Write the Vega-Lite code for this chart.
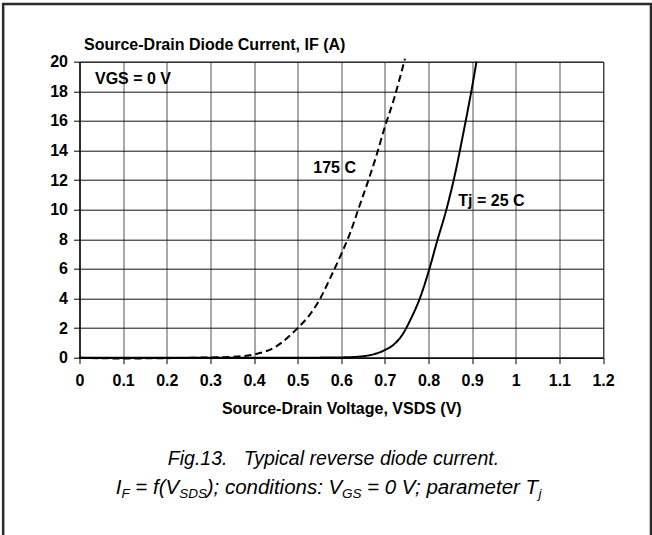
{
  "$schema": "https://vega.github.io/schema/vega-lite/v6.json",
  "width": 523.5,
  "height": 296,
  "autosize": {"type": "none"},
  "padding": {"left": 79.5, "top": 61.7, "right": 49, "bottom": 177.3},
  "background": "white",
  "config": {
    "view": {"stroke": "#333", "strokeWidth": 1},
    "font": "Liberation Sans",
    "axis": {
      "labelFont": "Liberation Sans", "labelFontWeight": "bold", "labelFontSize": 16, "labelColor": "#000",
      "titleFont": "Liberation Sans", "titleFontWeight": "bold", "titleFontSize": 16, "titleColor": "#000",
      "domainColor": "#000", "domainWidth": 1.2, "tickColor": "#000", "tickSize": 6, "gridWidth": 1,
      "labelOverlap": false
    }
  },
  "datasets": {
    "curves": [
      {"v": 0.0, "i": 0.0, "series": "25C"},
      {"v": 0.1, "i": 0.0, "series": "25C"},
      {"v": 0.2, "i": 0.0, "series": "25C"},
      {"v": 0.3, "i": 0.0, "series": "25C"},
      {"v": 0.4, "i": 0.0, "series": "25C"},
      {"v": 0.5, "i": 0.0, "series": "25C"},
      {"v": 0.6, "i": 0.02, "series": "25C"},
      {"v": 0.65, "i": 0.1, "series": "25C"},
      {"v": 0.68, "i": 0.28, "series": "25C"},
      {"v": 0.7, "i": 0.52, "series": "25C"},
      {"v": 0.72, "i": 0.88, "series": "25C"},
      {"v": 0.74, "i": 1.55, "series": "25C"},
      {"v": 0.76, "i": 2.65, "series": "25C"},
      {"v": 0.78, "i": 4.0, "series": "25C"},
      {"v": 0.8, "i": 5.8, "series": "25C"},
      {"v": 0.82, "i": 7.9, "series": "25C"},
      {"v": 0.84, "i": 9.9, "series": "25C"},
      {"v": 0.86, "i": 12.3, "series": "25C"},
      {"v": 0.88, "i": 15.2, "series": "25C"},
      {"v": 0.9, "i": 18.3, "series": "25C"},
      {"v": 0.91, "i": 20.0, "series": "25C"},
      {"v": 0.0, "i": 0.0, "series": "175C"},
      {"v": 0.1, "i": -0.05, "series": "175C"},
      {"v": 0.2, "i": -0.03, "series": "175C"},
      {"v": 0.3, "i": 0.02, "series": "175C"},
      {"v": 0.35, "i": 0.06, "series": "175C"},
      {"v": 0.4, "i": 0.22, "series": "175C"},
      {"v": 0.45, "i": 0.75, "series": "175C"},
      {"v": 0.5, "i": 2.0, "series": "175C"},
      {"v": 0.525, "i": 2.8, "series": "175C"},
      {"v": 0.55, "i": 3.9, "series": "175C"},
      {"v": 0.575, "i": 5.4, "series": "175C"},
      {"v": 0.6, "i": 7.0, "series": "175C"},
      {"v": 0.62, "i": 8.4, "series": "175C"},
      {"v": 0.64, "i": 10.1, "series": "175C"},
      {"v": 0.66, "i": 11.8, "series": "175C"},
      {"v": 0.68, "i": 13.6, "series": "175C"},
      {"v": 0.7, "i": 15.6, "series": "175C"},
      {"v": 0.72, "i": 17.4, "series": "175C"},
      {"v": 0.746, "i": 20.2, "series": "175C"}
    ],
    "notes": [
      {"v": 0.0355, "i": 18.83, "label": "VGS = 0 V"},
      {"v": 0.5359, "i": 12.84, "label": "175 C"},
      {"v": 0.8683, "i": 10.61, "label": "Tj = 25 C"}
    ],
    "caption": [
      {"v": 0.5822, "i": -7.25, "text": "Fig.13.\u00a0\u00a0\u00a0Typical reverse diode current.", "part": "line1"},
      {"v": 0.083, "i": -9.21, "text": "I", "part": "main"},
      {"v": 0.096, "i": -9.48, "text": "F", "part": "sub"},
      {"v": 0.128, "i": -9.21, "text": "= f(V", "part": "main"},
      {"v": 0.2285, "i": -9.48, "text": "SDS", "part": "sub"},
      {"v": 0.2915, "i": -9.21, "text": "); conditions: V", "part": "main"},
      {"v": 0.602, "i": -9.48, "text": "GS", "part": "sub"},
      {"v": 0.659, "i": -9.21, "text": "= 0 V; parameter T", "part": "main"},
      {"v": 1.052, "i": -9.48, "text": "j", "part": "sub"}
    ],
    "frame": [
      {"v": -0.175, "v2": 1.31, "i": 23.9, "i2": -13.7}
    ]
  },
  "layer": [
    {
      "data": {"name": "curves"},
      "mark": {"type": "line", "interpolate": "monotone", "color": "#000", "strokeWidth": 2, "clip": false},
      "encoding": {
        "x": {
          "field": "v", "type": "quantitative",
          "scale": {"domain": [0, 1.2], "nice": false, "zero": false},
          "axis": {
            "title": "Source-Drain Voltage, VSDS (V)", "values": [0, 0.1, 0.2, 0.3, 0.4, 0.5, 0.6, 0.7, 0.8, 0.9, 1, 1.1, 1.2],
            "tickCount": 20,
            "format": ".1~f", "labelPadding": 9, "titlePadding": 12, "gridColor": "#555", "labelFlush": false
          }
        },
        "y": {
          "field": "i", "type": "quantitative",
          "scale": {"domain": [0, 20], "nice": false, "zero": false},
          "axis": {
            "title": "Source-Drain Diode Current, IF (A)",
            "values": [0, 2, 4, 6, 8, 10, 12, 14, 16, 18, 20],
            "tickCount": 20,
            "labelPadding": 6, "gridColor": "#111", "labelFlush": false,
            "titleAngle": 0, "titleAlign": "left", "titleBaseline": "middle", "titleX": 4, "titleY": -17.7
          }
        },
        "detail": {"field": "series"},
        "strokeDash": {
          "field": "series", "type": "nominal",
          "scale": {"domain": ["25C", "175C"], "range": [[1, 0], [7, 4]]},
          "legend": null
        }
      }
    },
    {
      "data": {"name": "notes"},
      "mark": {"type": "text", "align": "left", "baseline": "middle", "fontSize": 16, "fontWeight": "bold", "color": "#000", "font": "Liberation Sans"},
      "encoding": {
        "x": {"field": "v", "type": "quantitative"},
        "y": {"field": "i", "type": "quantitative"},
        "text": {"field": "label"}
      }
    },
    {
      "data": {"name": "caption"},
      "transform": [{"filter": "datum.part === 'line1'"}],
      "mark": {"type": "text", "align": "center", "baseline": "alphabetic", "fontSize": 19.5, "fontStyle": "italic", "color": "#000", "font": "Liberation Sans"},
      "encoding": {
        "x": {"field": "v", "type": "quantitative"},
        "y": {"field": "i", "type": "quantitative"},
        "text": {"field": "text"}
      }
    },
    {
      "data": {"name": "caption"},
      "transform": [{"filter": "datum.part === 'main'"}],
      "mark": {"type": "text", "align": "left", "baseline": "alphabetic", "fontSize": 20.5, "fontStyle": "italic", "color": "#000", "font": "Liberation Sans"},
      "encoding": {
        "x": {"field": "v", "type": "quantitative"},
        "y": {"field": "i", "type": "quantitative"},
        "text": {"field": "text"}
      }
    },
    {
      "data": {"name": "caption"},
      "transform": [{"filter": "datum.part === 'sub'"}],
      "mark": {"type": "text", "align": "left", "baseline": "alphabetic", "fontSize": 13.5, "fontStyle": "italic", "color": "#000", "font": "Liberation Sans"},
      "encoding": {
        "x": {"field": "v", "type": "quantitative"},
        "y": {"field": "i", "type": "quantitative"},
        "text": {"field": "text"}
      }
    },
    {
      "data": {"name": "frame"},
      "mark": {"type": "rect", "fill": null, "fillOpacity": 0, "stroke": "#2b2b2b", "strokeWidth": 2.5, "clip": false},
      "encoding": {
        "x": {"field": "v", "type": "quantitative"},
        "x2": {"field": "v2"},
        "y": {"field": "i", "type": "quantitative"},
        "y2": {"field": "i2"}
      }
    }
  ]
}
